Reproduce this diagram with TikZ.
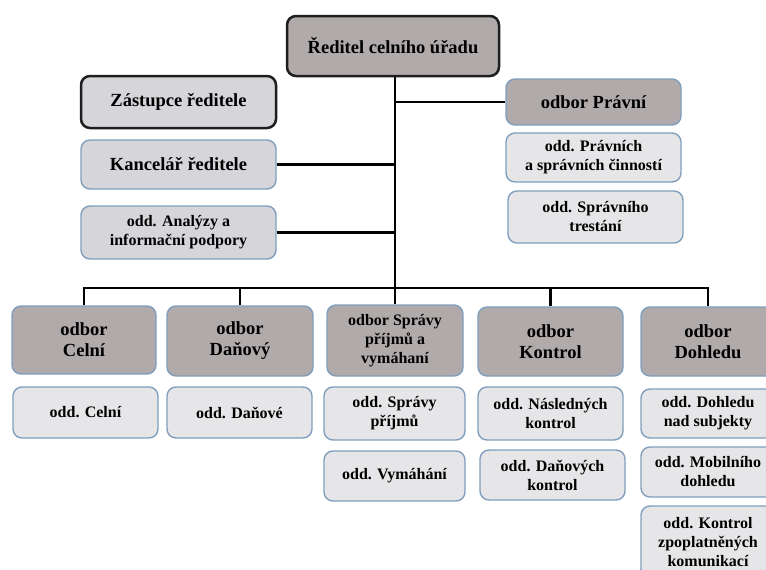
\documentclass[tikz,border=0pt]{standalone}
\usepackage{fontspec}
\setmainfont{Liberation Serif}
\definecolor{darkfill}{HTML}{B0ABAA}
\definecolor{lightfill}{HTML}{E6E6E8}
\definecolor{stafffill}{HTML}{D6D5D9}
\definecolor{boxline}{HTML}{809EBD}
\definecolor{chiefline}{HTML}{1E1E1E}
\begin{document}
\begin{tikzpicture}
[x=1pt,y=-1pt,
  basebox/.style={shape=rectangle,rounded corners=9pt,align=center,inner sep=2pt},%
  bigtext/.style={font=\fontsize{18.5}{21}\selectfont\bfseries},%
  smalltext/.style={font=\fontsize{16}{19}\selectfont\bfseries},%
  chiefbox/.style={basebox,bigtext,draw=chiefline,line width=2.5pt,fill=darkfill},%
  deputybox/.style={basebox,bigtext,draw=chiefline,line width=2.5pt,fill=stafffill},%
  staffbox/.style={basebox,draw=boxline,line width=1.4pt,fill=stafffill},%
  headbox/.style={basebox,draw=boxline,line width=1.4pt,fill=darkfill},%
  subbox/.style={basebox,smalltext,draw=boxline,line width=1.4pt,fill=lightfill},%
  linedecorate/.style={-,line width=2.5pt,black}]
\useasboundingbox (0,0) rectangle (766,570);
%% top boxes
\node (reditel) at (393,46) [chiefbox,minimum width=212,minimum height=60] {Ředitel celního úřadu};
\node (zastupce) at (178.5,102) [deputybox,minimum width=195,minimum height=52] {Zástupce ředitele};
\node (kancelar) at (178.5,164.5) [staffbox,bigtext,minimum width=195,minimum height=49] {Kancelář ředitele};
\node (analyzy) at (178.5,232.5) [staffbox,smalltext,minimum width=195,minimum height=53] {odd. Analýzy a\\informační podpory};
%% departments
\foreach \nodename/\x/\y/\w/\h/\txt in {pravni/593.5/102/175/46/{odbor Právní},
    celni/84/340/144/68/{odbor\\Celní}, danovy/240/341/146/70/{odbor\\Daňový},
    kontrol/550.5/341.5/145/69/{odbor\\Kontrol}, dohledu/708/341.5/134/69/{odbor\\Dohledu}} {
  \node (\nodename) at (\x,\y) [headbox,bigtext,minimum width=\w,minimum height=\h] {\txt};
}
\node (sprava) at (395,340.5) [headbox,smalltext,minimum width=136,minimum height=71] {odbor Správy\\příjmů a\\vymáhaní};
%% sections
\foreach \nodename/\x/\y/\w/\h/\txt in {pravnich/593.5/157.5/175/49/{odd. Právních\\a správních činností},
    trestani/595.5/217/175/52/{odd. Správního\\trestání},
    oddcelni/85.5/412.5/145/51/{odd. Celní}, odddanove/239.5/412.5/145/51/{odd. Daňové},
    prijmu/394.5/413.5/141/53/{odd. Správy\\příjmů}, vymahani/394.5/476/141/50/{odd. Vymáhání},
    naslednych/550.5/413.5/145/53/{odd. Následných\\kontrol}, danovych/552.5/475/145/50/{odd. Daňových\\kontrol},
    subjekty/708/413.5/134/49/{odd. Dohledu\\nad subjekty}, mobilniho/708/472/134/50/{odd. Mobilního\\dohledu},
    komunikaci/708/542/134/72/{odd. Kontrol\\zpoplatněných\\komunikací}} {
  \node (\nodename) at (\x,\y) [subbox,minimum width=\w,minimum height=\h] {\txt};
}
%% lines
\coordinate (hub) at (395,288);
\draw[linedecorate] (reditel.south -| hub) -- (hub);
\draw[linedecorate] (sprava.north) -- (hub);
\foreach \startnode in {celni,danovy,kontrol,dohledu} {
  \draw[linedecorate] (\startnode.north) |- (hub);
}
\foreach \startnode in {kancelar,analyzy} {
  \draw[linedecorate] (\startnode.east) -- (\startnode.east -| hub);
}
\draw[linedecorate] (pravni.west) -- (pravni.west -| hub);
\end{tikzpicture}
\end{document}
